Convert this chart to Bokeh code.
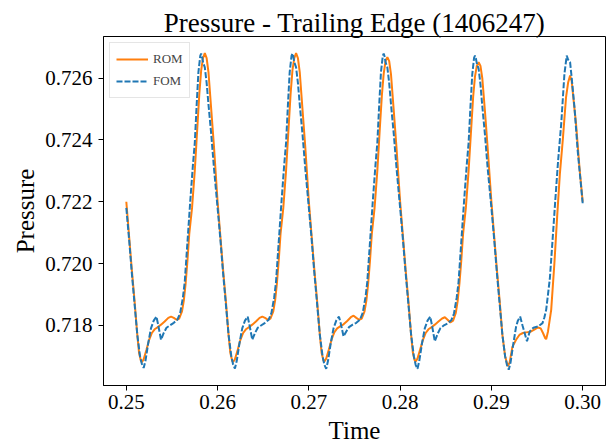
from bokeh.plotting import figure
from bokeh.models import FixedTicker, PrintfTickFormatter, Range1d
from bokeh.embed import file_html
from bokeh.resources import INLINE

# ---- data ----
t_fom = [
    0.2500, 0.2503, 0.2506, 0.2509, 0.2512, 0.2515, 0.2517, 0.2519, 0.2521, 0.2524, 0.2527, 0.2530, 0.2533,
    0.2535, 0.2538, 0.2541, 0.2544, 0.2548, 0.2552, 0.2556, 0.2559, 0.2562, 0.2564, 0.2567, 0.2570, 0.2573,
    0.2575, 0.2577, 0.2579, 0.2581, 0.2582, 0.2583, 0.2584, 0.2586, 0.2588, 0.2590, 0.2593, 0.2596,
    0.2600, 0.2603, 0.2606, 0.2609, 0.2612, 0.2615, 0.2617, 0.2619, 0.2621, 0.2624, 0.2627, 0.2630, 0.2633,
    0.2635, 0.2638, 0.2641, 0.2644, 0.2648, 0.2652, 0.2656, 0.2659, 0.2662, 0.2664, 0.2667, 0.2670, 0.2673,
    0.2675, 0.2677, 0.2679, 0.2681, 0.2682, 0.2683, 0.2684, 0.2686, 0.2688, 0.2690, 0.2693, 0.2696,
    0.2700, 0.2703, 0.2706, 0.2709, 0.2712, 0.2715, 0.2717, 0.2719, 0.2721, 0.2724, 0.2727, 0.2730, 0.2733,
    0.2735, 0.2738, 0.2741, 0.2744, 0.2748, 0.2752, 0.2756, 0.2759, 0.2762, 0.2764, 0.2767, 0.2770, 0.2773,
    0.2775, 0.2777, 0.2779, 0.2781, 0.2782, 0.2783, 0.2784, 0.2786, 0.2788, 0.2790, 0.2793, 0.2796,
    0.2800, 0.2803, 0.2806, 0.2809, 0.2812, 0.2815, 0.2817, 0.2819, 0.2821, 0.2824, 0.2827, 0.2830, 0.2833,
    0.2835, 0.2838, 0.2841, 0.2844, 0.2848, 0.2852, 0.2856, 0.2859, 0.2862, 0.2864, 0.2867, 0.2870, 0.2873,
    0.2875, 0.2877, 0.2879, 0.2881, 0.2882, 0.2883, 0.2884, 0.2886, 0.2888, 0.2890, 0.2893, 0.2896,
    0.2900, 0.2903, 0.2906, 0.2909, 0.2912, 0.2915, 0.2917, 0.2919, 0.2921, 0.2924, 0.2927, 0.2929, 0.29315,
    0.2934, 0.2939, 0.2942, 0.2946, 0.2951, 0.2956, 0.2958, 0.2960, 0.2962, 0.2964, 0.2967, 0.2970, 0.2973,
    0.29765, 0.2980, 0.29825, 0.2984, 0.29862, 0.2988, 0.2991, 0.29945, 0.3000,
]
p_fom = [
    0.72180, 0.72080, 0.71970, 0.71870, 0.71770, 0.71700, 0.71675, 0.71662, 0.71685, 0.71742, 0.71790, 0.71815, 0.71828,
    0.71800, 0.71753, 0.71775, 0.71792, 0.71800, 0.71808, 0.71818, 0.71840, 0.71890, 0.71940, 0.72070, 0.72200, 0.72320,
    0.72390, 0.72510, 0.72620, 0.72672, 0.72680, 0.72670, 0.72652, 0.72635, 0.72585, 0.72515, 0.72420, 0.72310,
    0.72180, 0.72080, 0.71970, 0.71870, 0.71770, 0.71700, 0.71673, 0.71660, 0.71685, 0.71742, 0.71790, 0.71815, 0.71828,
    0.71800, 0.71753, 0.71775, 0.71792, 0.71800, 0.71808, 0.71818, 0.71840, 0.71890, 0.71940, 0.72070, 0.72200, 0.72320,
    0.72390, 0.72510, 0.72620, 0.72672, 0.72680, 0.72670, 0.72652, 0.72635, 0.72585, 0.72515, 0.72420, 0.72310,
    0.72180, 0.72080, 0.71970, 0.71870, 0.71770, 0.71700, 0.71672, 0.71659, 0.71685, 0.71742, 0.71790, 0.71815, 0.71828,
    0.71805, 0.71764, 0.71780, 0.71794, 0.71802, 0.71808, 0.71818, 0.71840, 0.71890, 0.71940, 0.72070, 0.72200, 0.72320,
    0.72390, 0.72510, 0.72620, 0.72672, 0.72680, 0.72670, 0.72652, 0.72635, 0.72585, 0.72515, 0.72420, 0.72310,
    0.72180, 0.72080, 0.71970, 0.71870, 0.71770, 0.71700, 0.71672, 0.71659, 0.71685, 0.71742, 0.71790, 0.71815, 0.71828,
    0.71798, 0.71748, 0.71772, 0.71790, 0.71800, 0.71806, 0.71816, 0.71838, 0.71890, 0.71940, 0.72070, 0.72200, 0.72320,
    0.72390, 0.72505, 0.72612, 0.72666, 0.72673, 0.72664, 0.72648, 0.72630, 0.72580, 0.72510, 0.72415, 0.72305,
    0.72180, 0.72080, 0.71970, 0.71870, 0.71770, 0.71700, 0.71672, 0.71656, 0.71680, 0.71740, 0.71795, 0.71815, 0.71828,
    0.71800, 0.71748, 0.71780, 0.71792, 0.71796, 0.71807, 0.71825, 0.71850, 0.71900, 0.71950, 0.72076, 0.72205, 0.72330,
    0.72453, 0.72614, 0.72673, 0.72660, 0.72652, 0.72600, 0.72506, 0.72366, 0.72195,
]

t_rom = [
    0.2500, 0.2503, 0.2506, 0.2509, 0.2512, 0.2514, 0.2516, 0.2517, 0.2519, 0.2522, 0.2525, 0.2528, 0.2531,
    0.2535, 0.2538, 0.2542, 0.2546, 0.2549, 0.2552, 0.2555, 0.2558, 0.2561, 0.2563, 0.2565, 0.2567, 0.2569,
    0.2572, 0.2575, 0.2578, 0.2580, 0.2582, 0.2584, 0.2586, 0.2588, 0.2590, 0.2593, 0.2596,
    0.2600, 0.2603, 0.2606, 0.2609, 0.2612, 0.2614, 0.2616, 0.2617, 0.2619, 0.2622, 0.2625, 0.2628, 0.2631,
    0.2635, 0.2638, 0.2642, 0.2646, 0.2649, 0.2652, 0.2655, 0.2658, 0.2661, 0.2663, 0.2665, 0.2667, 0.2669,
    0.2672, 0.2675, 0.2678, 0.2680, 0.2682, 0.2684, 0.2686, 0.2688, 0.2690, 0.2693, 0.2696,
    0.2700, 0.2703, 0.2706, 0.2709, 0.2712, 0.2714, 0.2716, 0.2717, 0.2719, 0.2722, 0.2725, 0.2728, 0.2731,
    0.2735, 0.2738, 0.2742, 0.2746, 0.2749, 0.2752, 0.2755, 0.2758, 0.2761, 0.2763, 0.2765, 0.2767, 0.2769,
    0.2772, 0.2775, 0.2778, 0.2780, 0.2782, 0.2784, 0.2786, 0.2788, 0.2790, 0.2793, 0.2796,
    0.2800, 0.2803, 0.2806, 0.2809, 0.2812, 0.2814, 0.2816, 0.2817, 0.2819, 0.2822, 0.2825, 0.2828, 0.2831,
    0.2835, 0.2838, 0.2842, 0.2846, 0.2849, 0.2852, 0.2855, 0.2858, 0.2861, 0.2863, 0.2865, 0.2867, 0.2869,
    0.2872, 0.2875, 0.2878, 0.2880, 0.2882, 0.2884, 0.2886, 0.2888, 0.2890, 0.2893, 0.2896,
    0.2900, 0.2903, 0.2906, 0.2909, 0.2912, 0.2915, 0.2918, 0.2920, 0.2923, 0.2927, 0.2931, 0.29345,
    0.2938, 0.2942, 0.2947, 0.2951, 0.2954, 0.29565, 0.2959, 0.2960, 0.2962, 0.29655, 0.2969, 0.2972,
    0.2975, 0.29782, 0.2980, 0.29818, 0.2984, 0.29862, 0.2988, 0.2990, 0.29927, 0.29964, 0.3000,
]
p_rom = [
    0.72200, 0.72090, 0.71980, 0.71880, 0.71770, 0.71710, 0.71685, 0.71680, 0.71690, 0.71720, 0.71753, 0.71775, 0.71787,
    0.71795, 0.71802, 0.71812, 0.71824, 0.71828, 0.71824, 0.71818, 0.71822, 0.71845, 0.71880, 0.71936, 0.72010, 0.72097,
    0.72180, 0.72300, 0.72450, 0.72550, 0.72625, 0.72665, 0.72681, 0.72665, 0.72620, 0.72500, 0.72380,
    0.72200, 0.72090, 0.71980, 0.71880, 0.71770, 0.71710, 0.71685, 0.71681, 0.71690, 0.71720, 0.71753, 0.71775, 0.71787,
    0.71795, 0.71802, 0.71812, 0.71824, 0.71828, 0.71824, 0.71818, 0.71822, 0.71845, 0.71880, 0.71936, 0.72010, 0.72097,
    0.72180, 0.72300, 0.72450, 0.72550, 0.72625, 0.72665, 0.72681, 0.72665, 0.72620, 0.72500, 0.72380,
    0.72200, 0.72090, 0.71980, 0.71880, 0.71770, 0.71710, 0.71686, 0.71683, 0.71692, 0.71722, 0.71755, 0.71778, 0.71790,
    0.71798, 0.71803, 0.71814, 0.71826, 0.71831, 0.71824, 0.71818, 0.71822, 0.71845, 0.71880, 0.71936, 0.72010, 0.72097,
    0.72180, 0.72300, 0.72450, 0.72545, 0.72615, 0.72655, 0.72668, 0.72655, 0.72612, 0.72495, 0.72375,
    0.72200, 0.72090, 0.71980, 0.71880, 0.71770, 0.71710, 0.71686, 0.71683, 0.71692, 0.71722, 0.71753, 0.71775, 0.71787,
    0.71795, 0.71802, 0.71812, 0.71822, 0.71826, 0.71818, 0.71809, 0.71815, 0.71840, 0.71878, 0.71936, 0.72010, 0.72097,
    0.72180, 0.72300, 0.72445, 0.72540, 0.72605, 0.72640, 0.72652, 0.72640, 0.72600, 0.72490, 0.72370,
    0.72200, 0.72090, 0.71980, 0.71880, 0.71770, 0.71700, 0.71667, 0.71680, 0.71730, 0.71753, 0.71770, 0.71775,
    0.71777, 0.71778, 0.71786, 0.71793, 0.71790, 0.71775, 0.71758, 0.71755, 0.71780, 0.71850, 0.72000, 0.72150,
    0.72290, 0.72400, 0.72470, 0.72539, 0.72585, 0.72609, 0.72590, 0.72530, 0.72453, 0.72313, 0.72200,
]

x_ticks = [0.25, 0.26, 0.27, 0.28, 0.29, 0.30]
y_ticks = [0.718, 0.720, 0.722, 0.724, 0.726]

title_text = "Pressure - Trailing Edge (1406247)"
x_label = "Time"
y_label = "Pressure"
rom_label = "ROM"
fom_label = "FOM"

FONT = "Liberation Serif"

p = figure(width=613, height=447, output_backend="svg", toolbar_location=None,
           x_range=Range1d(0.2475, 0.3025), y_range=Range1d(0.71605, 0.72735),
           min_border_left=103, min_border_right=8, min_border_top=36, min_border_bottom=62)

p.line(t_rom, p_rom, line_color="#ff7f0e", line_width=2, legend_label=rom_label)
p.line(t_fom, p_fom, line_color="#1f77b4", line_width=2, line_dash="6 2", legend_label=fom_label)

p.title.text = title_text
p.title.text_font = FONT
p.title.text_font_size = "27px"
p.title.text_font_style = "normal"
p.title.align = "center"
p.title.text_color = "black"
p.title.standoff = -2
p.title.offset = 0

p.xgrid.visible = False
p.ygrid.visible = False
p.outline_line_color = "black"
p.outline_line_width = 1
p.outline_line_alpha = 1

p.xaxis.ticker = FixedTicker(ticks=x_ticks)
p.yaxis.ticker = FixedTicker(ticks=y_ticks)
p.xaxis.formatter = PrintfTickFormatter(format="%.2f")
p.yaxis.formatter = PrintfTickFormatter(format="%.3f")
p.xaxis.axis_label = x_label
p.yaxis.axis_label = y_label
for ax in (p.xaxis, p.yaxis):
    ax.axis_label_text_font = FONT
    ax.axis_label_text_font_size = "25px"
    ax.axis_label_text_font_style = "normal"
    ax.axis_label_text_color = "black"
    ax.major_label_text_font = FONT
    ax.major_label_text_font_size = "21px"
    ax.major_label_text_color = "black"
    ax.axis_line_color = "black"
    ax.major_tick_line_color = "black"
    ax.major_tick_out = 5
    ax.major_tick_in = 0
    ax.minor_tick_out = 0
    ax.minor_tick_in = 0
p.xaxis.major_label_standoff = 4
p.xaxis.axis_label_standoff = 5
p.yaxis.major_label_standoff = 6
p.yaxis.axis_label_standoff = 3
p.yaxis.major_label_orientation = "horizontal"

p.legend.location = "top_left"
p.legend.label_text_font = FONT
p.legend.label_text_font_size = "13px"
p.legend.border_line_color = "#cccccc"
p.legend.background_fill_alpha = 0.8
p.legend.glyph_width = 32
p.legend.spacing = 2
p.legend.padding = 6
p.legend.margin = 6

open("out.html", "w").write(file_html(p, INLINE))
